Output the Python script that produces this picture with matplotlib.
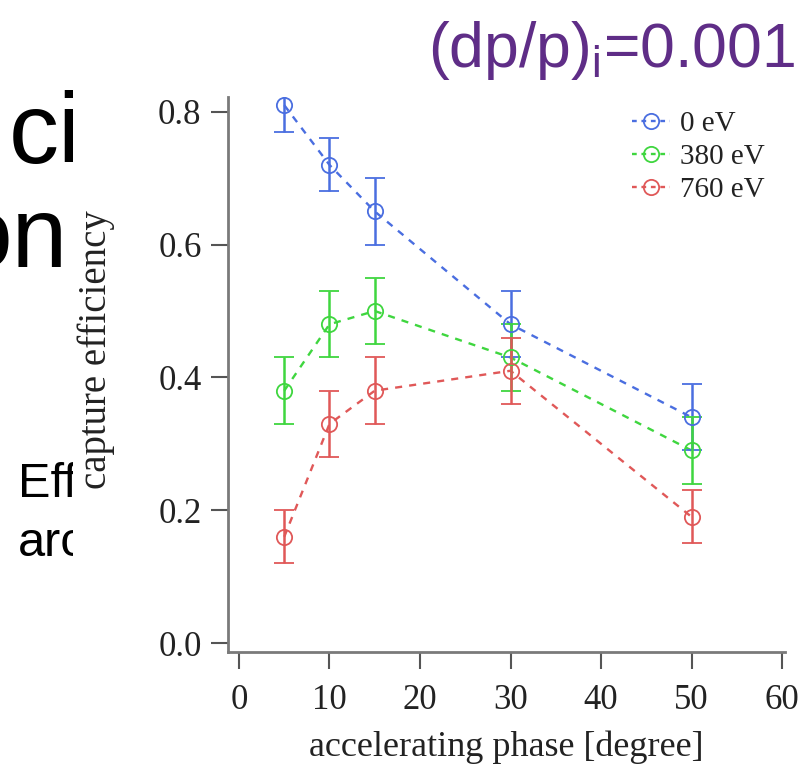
import matplotlib
matplotlib.use("Agg")
import matplotlib.pyplot as plt
from matplotlib.lines import Line2D
from matplotlib.patches import Rectangle

# ---- data ----
phase = [5, 10, 15, 30, 50]
eff_0eV = [0.81, 0.72, 0.65, 0.48, 0.34]
err_0eV = [0.04, 0.04, 0.05, 0.05, 0.05]
eff_380eV = [0.38, 0.48, 0.50, 0.43, 0.29]
err_380eV = [0.05, 0.05, 0.05, 0.05, 0.05]
eff_760eV = [0.16, 0.33, 0.38, 0.41, 0.19]
err_760eV = [0.04, 0.05, 0.05, 0.05, 0.04]
series_labels = ["0 eV", "380 eV", "760 eV"]
xticks = [0, 10, 20, 30, 40, 50, 60]
yticks = [0.0, 0.2, 0.4, 0.6, 0.8]
title_text = "(dp/p)$_\\mathregular{i}$=0.001"

colors = ["#4a6ee0", "#3fd63f", "#e05858"]

W, H = 802, 775
fig = plt.figure(figsize=(W / 100, H / 100), dpi=100)
fig.patch.set_facecolor("white")


def fx(px):
    return px / W


def fy(py):
    return 1 - py / H


sans = "Liberation Sans"
# slide text partly hidden behind the chart image
fig.text(fx(8.5), fy(163), "cie", fontsize=72, family=sans,
         color="black", va="baseline", ha="left", zorder=1)
fig.text(fx(68), fy(267), "on", fontsize=72, family=sans,
         color="black", va="baseline", ha="right", zorder=1)
fig.text(fx(18), fy(497), "Eff", fontsize=35, family=sans,
         color="black", va="baseline", ha="left", zorder=1)
fig.text(fx(18), fy(556), "arc", fontsize=35, family=sans,
         color="black", va="baseline", ha="left", zorder=1)
# white chart image background
fig.add_artist(Rectangle((fx(73), 0), 1, fy(88), transform=fig.transFigure,
                         facecolor="white", edgecolor="none", zorder=2))
# purple slide annotation
fig.text(fx(428), fy(67), title_text, fontsize=45, family=sans,
         color="#5f2d87", va="baseline", ha="left", zorder=4)

plt.rcParams["font.family"] = ["Liberation Serif", "DejaVu Serif"]

ax = fig.add_axes([fx(228), fy(652), fx(785) - fx(228), fy(97) - fy(652)],
                  zorder=3)
ax.patch.set_alpha(0)

for y, e, c in zip([eff_0eV, eff_380eV, eff_760eV],
                   [err_0eV, err_380eV, err_760eV], colors):
    ax.errorbar(phase, y, yerr=e, fmt="o", color=c, mfc="none", ms=11,
                mew=1.3, elinewidth=1.8, capsize=7, capthick=1.8, zorder=3)
    ax.plot(phase, y, color=c, lw=1.7, dashes=(3, 3), zorder=2)

ax.set_xlim(-1.215, 60.33)
ax.set_ylim(-0.01355, 0.8223)
ax.set_xticks(xticks)
ax.set_yticks(yticks)
ax.set_yticklabels([f"{v:.1f}" for v in yticks])

for s in ["top", "right"]:
    ax.spines[s].set_visible(False)
for s in ["left", "bottom"]:
    ax.spines[s].set_color("#7a7a7a")
    ax.spines[s].set_linewidth(2)

ax.tick_params(direction="out", length=12, width=1.5, color="#555555",
               labelsize=25, labelcolor="#222222")
ax.tick_params(axis="y", pad=7)
ax.tick_params(axis="x", pad=11)

ax.set_xlabel("accelerating phase [degree]", fontsize=26, color="#222222")
ax.set_ylabel("capture efficiency", fontsize=28, color="#222222")
ax.yaxis.set_label_coords(-0.203, 0.544)
ax.xaxis.set_label_coords(0.5, -0.142)

handles = [Line2D([], [], color=c, lw=1.7, dashes=(2, 2), marker="o",
                  mfc="none", ms=11, mew=1.3) for c in colors]
leg = ax.legend(handles, series_labels, loc="upper left",
                bbox_to_anchor=(fx(632), fy(111)),
                bbox_transform=fig.transFigure, frameon=False,
                fontsize=21, handlelength=1.3, handletextpad=0.35,
                labelspacing=0.22, borderpad=0, borderaxespad=0)
for t in leg.get_texts():
    t.set_color("#222222")

fig.savefig("out.png", dpi=100, facecolor="white")
